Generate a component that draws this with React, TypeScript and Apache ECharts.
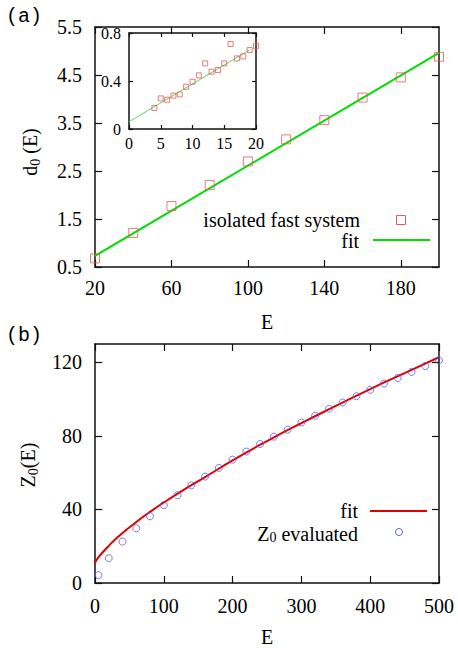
import React, { useEffect, useRef } from "react";
import * as echarts from "echarts";

// ---- data ----
const mainE = [20, 40, 60, 80, 100, 120, 140, 160, 180, 200];
const mainD = [0.68, 1.21, 1.77, 2.21, 2.7, 3.16, 3.56, 4.03, 4.45, 4.88];
const mainFitE = [20, 200];
const mainFitD = [0.73, 4.96];

const insetX = [4, 5, 6, 7, 8, 9, 10, 11, 12, 13, 14, 15, 16, 17, 18, 19, 20];
const insetY = [0.175, 0.255, 0.244, 0.278, 0.288, 0.352, 0.394, 0.447, 0.547, 0.478, 0.492, 0.547, 0.708, 0.588, 0.605, 0.658, 0.692];
const insetFitX = [0, 19];
const insetFitY = [0.06, 0.66];

const zE = [5, 20, 40, 60, 80, 100, 120, 140, 160, 180, 200, 220, 240, 260, 280, 300, 320, 340, 360, 380, 400, 420, 440, 460, 480, 500];
const zVals = [4.3, 13.5, 22.5, 29.8, 36.3, 42.4, 47.7, 53.1, 57.9, 62.6, 67.1, 71.5, 75.6, 79.6, 83.4, 87.3, 91.0, 94.8, 98.2, 101.6, 105.1, 108.5, 111.5, 114.8, 118.0, 121.1];
const zFitE = [0, 1, 3, 6, 10, 15, 20, 30, 40, 60, 80, 100, 130, 160, 200, 250, 300, 350, 400, 450, 500];
const zFitVals = [10.6, 11.6, 12.9, 14.4, 16.2, 18.2, 20.2, 23.9, 27.2, 33.2, 38.7, 43.8, 50.9, 57.6, 66.7, 77.2, 87.0, 96.3, 105.5, 114.2, 122.8];

const xTicksA = [20, 60, 100, 140, 180];
const yTicksA = [0.5, 1.5, 2.5, 3.5, 4.5, 5.5];
const xTicksInset = [0, 5, 10, 15, 20];
const yTicksInset = [0, 0.4, 0.8];
const xTicksB = [0, 100, 200, 300, 400, 500];
const yTicksB = [0, 40, 80, 120];

const SERIF = "Liberation Serif";
const MONO = "Liberation Mono";

const zip = (a: number[], b: number[]) => a.map((v, i) => [v, b[i]]);

function axis(
  gridIndex: number,
  position: string,
  min: number,
  max: number,
  interval: number,
  ticks: number[],
  showLabels: boolean,
  tickLen: number,
  fontSize: number,
  margin: number,
  extra: any = {}
) {
  return {
    type: "value",
    gridIndex,
    position,
    min,
    max,
    interval,
    axisLine: { show: true, onZero: false, lineStyle: { color: "#111", width: 1.5 } },
    axisTick: { show: true, inside: true, length: tickLen, customValues: ticks, lineStyle: { color: "#111", width: 1.2 } },
    axisLabel: {
      show: showLabels,
      customValues: ticks,
      fontFamily: SERIF,
      fontSize,
      color: "#000",
      margin,
    },
    splitLine: { show: false },
    ...extra,
  };
}

export default function App() {
  const ref = useRef<HTMLDivElement>(null);
  useEffect(() => {
    if (!ref.current) return;
    const chart = echarts.init(ref.current, null, { renderer: "svg" });
    const titleStyle = { fontFamily: SERIF, fontSize: 20, color: "#000" };
    const rich = {
      m: { fontFamily: SERIF, fontSize: 20, fill: "#000", lineHeight: 24 },
      s: { fontFamily: SERIF, fontSize: 14, fill: "#000", lineHeight: 24, padding: [11, 0, 0, 0] },
    };
    const richLeg = {
      m: { fontFamily: SERIF, fontSize: 20, fill: "#000", lineHeight: 20 },
      s: { fontFamily: SERIF, fontSize: 14, fill: "#000", lineHeight: 20, padding: [7, 0, 0, 0] },
    };
    chart.setOption({
      animation: false,
      backgroundColor: "#fff",
      grid: [
        { left: 95, top: 27, width: 344, height: 240 },
        { left: 129, top: 33, width: 127, height: 96 },
        { left: 95, top: 344, width: 344, height: 240 },
      ],
      xAxis: [
        axis(0, "bottom", 20, 200, 20, xTicksA, true, 7, 20, 11, {
          name: "E",
          nameLocation: "middle",
          nameGap: 45,
          nameTextStyle: titleStyle,
        }),
        axis(0, "top", 20, 200, 20, xTicksA, false, 7, 20, 12),
        axis(1, "bottom", 0, 20, 5, xTicksInset, true, 4, 16, 6),
        axis(1, "top", 0, 20, 5, xTicksInset, false, 4, 16, 6),
        axis(2, "bottom", 0, 500, 100, xTicksB, true, 7, 20, 13, {
          name: "E",
          nameLocation: "middle",
          nameGap: 44,
          nameTextStyle: titleStyle,
        }),
        axis(2, "top", 0, 500, 100, xTicksB, false, 7, 20, 12),
      ],
      yAxis: [
        axis(0, "left", 0.5, 5.5, 0.5, yTicksA, true, 7, 20, 13),
        axis(0, "right", 0.5, 5.5, 0.5, yTicksA, false, 7, 20, 13),
        axis(1, "left", 0, 0.8, 0.4, yTicksInset, true, 4, 16, 8),
        axis(1, "right", 0, 0.8, 0.4, yTicksInset, false, 4, 16, 8),
        axis(2, "left", 0, 130, 10, yTicksB, true, 7, 20, 13),
        axis(2, "right", 0, 130, 10, yTicksB, false, 7, 20, 13),
      ],
      series: [
        {
          type: "line",
          xAxisIndex: 0,
          yAxisIndex: 0,
          data: zip(mainFitE, mainFitD),
          showSymbol: false,
          symbol: "none",
          lineStyle: { color: "#00dd00", width: 2 },
          z: 2,
        },
        {
          type: "scatter",
          xAxisIndex: 0,
          yAxisIndex: 0,
          data: zip(mainE, mainD),
          symbol: "rect",
          symbolSize: 9,
          itemStyle: { color: "rgba(0,0,0,0)", borderColor: "#e65a5a", borderWidth: 1 },
          z: 3,
        },
        {
          type: "line",
          xAxisIndex: 2,
          yAxisIndex: 2,
          data: zip(insetFitX, insetFitY),
          showSymbol: false,
          symbol: "none",
          lineStyle: { color: "#55dd55", width: 1 },
          z: 2,
        },
        {
          type: "scatter",
          xAxisIndex: 2,
          yAxisIndex: 2,
          data: zip(insetX, insetY),
          symbol: "rect",
          symbolSize: 5,
          itemStyle: { color: "rgba(0,0,0,0)", borderColor: "#e65a5a", borderWidth: 1 },
          z: 3,
        },
        {
          type: "line",
          xAxisIndex: 4,
          yAxisIndex: 4,
          data: zip(zFitE, zFitVals),
          showSymbol: false,
          symbol: "none",
          smooth: true,
          lineStyle: { color: "#e00000", width: 2 },
          z: 2,
        },
        {
          type: "scatter",
          xAxisIndex: 4,
          yAxisIndex: 4,
          data: zip(zE, zVals),
          symbol: "circle",
          symbolSize: 7,
          itemStyle: { color: "rgba(0,0,0,0)", borderColor: "#5a5ae6", borderWidth: 1 },
          z: 3,
        },
      ],
      graphic: [
        { type: "text", left: 6, top: 6, style: { text: "(a)", font: `20px "${MONO}"`, fill: "#000" } },
        { type: "text", left: 6, top: 325, style: { text: "(b)", font: `20px "${MONO}"`, fill: "#000" } },
        {
          type: "text",
          x: 30,
          y: 152,
          rotation: Math.PI / 2,
          style: { text: "{m|d}{s|0}{m| (E)}", align: "center", verticalAlign: "middle", rich },
        },
        {
          type: "text",
          x: 28,
          y: 465,
          rotation: Math.PI / 2,
          style: { text: "{m|Z}{s|0}{m|(E)}", align: "center", verticalAlign: "middle", rich },
        },
        // legend (a)
        {
          type: "text",
          x: 360,
          y: 220,
          style: { text: "isolated fast system", align: "right", verticalAlign: "middle", font: `20px "${SERIF}"`, fill: "#000" },
        },
        {
          type: "rect",
          shape: { x: 396.5, y: 215.5, width: 9, height: 9 },
          style: { fill: "none", stroke: "#e65a5a", lineWidth: 1 },
        },
        {
          type: "text",
          x: 359,
          y: 241,
          style: { text: "fit", align: "right", verticalAlign: "middle", font: `20px "${SERIF}"`, fill: "#000" },
        },
        {
          type: "line",
          shape: { x1: 373, y1: 240, x2: 430, y2: 240 },
          style: { stroke: "#00dd00", lineWidth: 2 },
        },
        // legend (b)
        {
          type: "text",
          x: 358,
          y: 511,
          style: { text: "fit", align: "right", verticalAlign: "middle", font: `20px "${SERIF}"`, fill: "#000" },
        },
        {
          type: "line",
          shape: { x1: 370, y1: 511, x2: 427, y2: 511 },
          style: { stroke: "#e00000", lineWidth: 2 },
        },
        {
          type: "text",
          x: 358,
          y: 534,
          style: { text: "{m|Z}{s|0}{m| evaluated}", align: "right", verticalAlign: "middle", rich: richLeg },
        },
        {
          type: "circle",
          shape: { cx: 399, cy: 532, r: 3.5 },
          style: { fill: "none", stroke: "#5a5ae6", lineWidth: 1 },
        },
      ],
    });
    return () => chart.dispose();
  }, []);
  return <div ref={ref} style={{ position: "fixed", left: 0, top: 0, width: 458, height: 648 }} />;
}
